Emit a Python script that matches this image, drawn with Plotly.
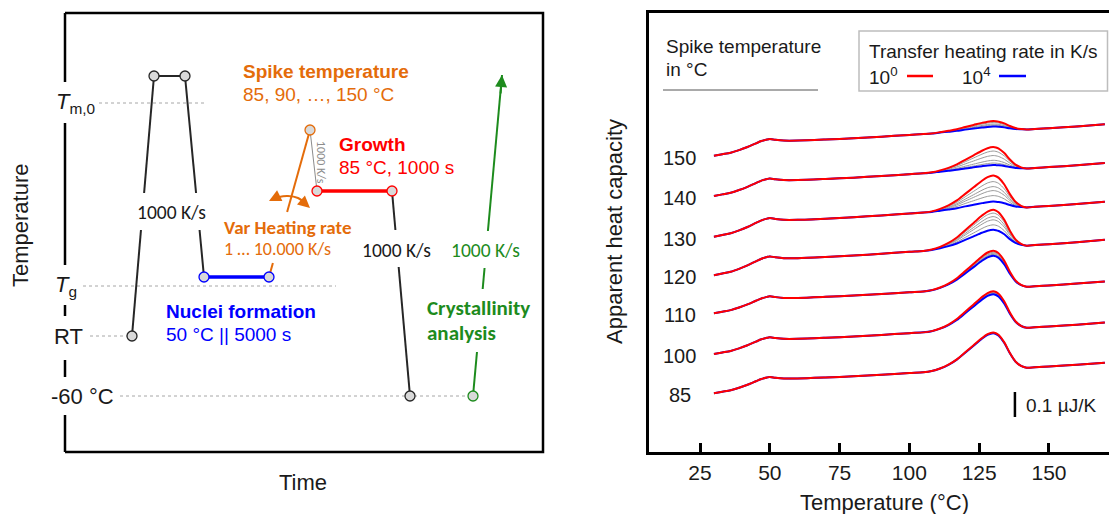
import plotly.graph_objects as go

W, H = 1109, 514
ARIAL = "Liberation Sans, Arial, Helvetica, sans-serif"
CALI = "Carlito, Lato, sans-serif"

ORANGE = "#E46C0A"
RED = "#FF0000"
BLUE = "#0000FF"
GREEN = "#1D8B1D"
BLACK = "#262626"
MARK_FILL = "#D9D9D9"
TXT = "#1a1a1a"

# ---------------- Right panel data (apparent heat capacity, µJ/K) ----------------
temperature_C = [30, 33, 36, 39, 42, 45, 47, 49, 50, 52, 55, 60, 70, 80, 90, 100, 105, 108,
                 111, 114, 117, 120, 123, 126, 128, 130, 131, 132, 134, 136, 138, 140, 142,
                 145, 150, 160, 170]
baseline_shape = [0.000, 0.006, 0.012, 0.022, 0.034, 0.048, 0.057, 0.063, 0.065, 0.062, 0.059,
                  0.059, 0.063, 0.068, 0.074, 0.081, 0.084, 0.086, 0.089, 0.091, 0.092, 0.094,
                  0.095, 0.096, 0.097, 0.098, 0.098, 0.098, 0.099, 0.100, 0.101, 0.102, 0.102,
                  0.104, 0.107, 0.114, 0.122]
peak_shape = [0, 0, 0, 0, 0, 0, 0, 0, 0, 0, 0, 0, 0, 0, 0, 0, 0, 0.02,
              0.07, 0.16, 0.30, 0.48, 0.67, 0.86, 0.96, 1.00, 0.98, 0.93, 0.72, 0.42, 0.18, 0.05, 0.0,
              0, 0, 0, 0]
spike_temperatures = [85, 100, 110, 120, 130, 140, 150]
curve_offset = [0.235, 0.392, 0.555, 0.707, 0.861, 1.024, 1.185]
baseline_gain = [1.00, 1.03, 1.04, 1.16, 1.15, 1.08, 1.03]
peak_rate_1 = [0.145, 0.150, 0.148, 0.148, 0.132, 0.090, 0.038]        # 10^0 K/s
peak_rate_mid = [[0.144, 0.144, 0.143, 0.142],                         # intermediate rates
                 [0.146, 0.143, 0.141, 0.140],
                 [0.142, 0.138, 0.134, 0.132],
                 [0.135, 0.121, 0.108, 0.088],
                 [0.108, 0.088, 0.072, 0.052],
                 [0.074, 0.056, 0.037, 0.026],
                 [0.032, 0.026, 0.022, 0.018]]
peak_rate_1e4 = [0.142, 0.138, 0.128, 0.068, 0.028, 0.018, 0.016]     # 10^4 K/s
x_ticks = [25, 50, 75, 100, 125, 150]
scale_bar_T = 137.8
scale_bar_y0 = 0.14
scale_bar_len = 0.1

# ---------------- Left panel data (schematic time / temperature units) ----------------
node_name = ["rt", "melt_a", "melt_b", "nuc_a", "nuc_b", "spike", "grow_a", "grow_b", "cool", "ana"]
node_time = [67, 89, 120, 139, 204, 245, 252, 327, 345, 408]
node_temp = [116, 376, 376, 175, 175, 322, 261, 261, 56, 56]
node_edge = [BLACK, BLACK, BLACK, BLUE, BLUE, ORANGE, RED, RED, BLACK, GREEN]
ana_tip = (437, 377)
level_name = ["Tm0", "Tg", "RT", "m60"]
level_temp = [349, 166, 116, 56]
level_from = [34, 18, 25, 55]
level_to = [141, 271, 64, 405]
axis_pieces = [(370, 439), (187, 329), (136, 147), (75, 92), (0, 37)]
box_w, box_h = 478, 439

N = dict(zip(node_name, zip(node_time, node_temp)))

fig = go.Figure()

# ---- right panel curves
def curve(off, gain, h):
    return [off + gain * b + h * p for b, p in zip(baseline_shape, peak_shape)]

for i, s in enumerate(spike_temperatures):
    off, g = curve_offset[i], baseline_gain[i]
    for h in peak_rate_mid[i]:
        fig.add_trace(go.Scatter(x=temperature_C, y=curve(off, g, h), mode="lines",
                                 line=dict(color="#9a9a9a", width=1, shape="spline", smoothing=0.8),
                                 showlegend=False, hoverinfo="skip"))
    fig.add_trace(go.Scatter(x=temperature_C, y=curve(off, g, peak_rate_1e4[i]), mode="lines",
                             line=dict(color=BLUE, width=2, shape="spline", smoothing=0.8), showlegend=False))
    fig.add_trace(go.Scatter(x=temperature_C, y=curve(off, g, peak_rate_1[i]), mode="lines",
                             line=dict(color=RED, width=2, shape="spline", smoothing=0.8), showlegend=False))

fig.add_trace(go.Scatter(x=[scale_bar_T, scale_bar_T], y=[scale_bar_y0, scale_bar_y0 + scale_bar_len],
                         mode="lines", line=dict(color="black", width=2.5), showlegend=False))

# ---- left panel schematic
def broken(p0, p1, gaps=()):
    def at(yy):
        t = (yy - p0[1]) / (p1[1] - p0[1])
        return p0[0] + t * (p1[0] - p0[0])
    gs = sorted(gaps, key=lambda g: (g[0] - p0[1]) / (p1[1] - p0[1]))
    xs, ys = [p0[0]], [p0[1]]
    for a, b in gs:
        if (b - a) * (p1[1] - p0[1]) < 0:
            a, b = b, a
        xs += [at(a), None, at(b)]
        ys += [a, None, b]
    xs.append(p1[0]); ys.append(p1[1])
    return xs, ys

def seg(xs, ys, color, width, dash=None):
    fig.add_trace(go.Scatter(x=xs, y=ys, mode="lines", xaxis="x2", yaxis="y2",
                             line=dict(color=color, width=width, dash=dash),
                             showlegend=False, hoverinfo="skip", connectgaps=False))

# frame
seg([0, box_w, box_w, 0], [box_h, box_h, 0, 0], "black", 2.5)
ax_x, ax_y = [], []
for a, b in axis_pieces:
    ax_x += [0, 0, None]; ax_y += [a, b, None]
seg(ax_x, ax_y, "black", 2.5)

# dashed levels
for t, x0, x1 in zip(level_temp, level_from, level_to):
    seg([x0, x1], [t, t], "#a6a6a6", 1, "3px,3px")

# process path
seg(*broken(N["rt"], N["melt_a"], [(222, 259)]), BLACK, 2)
seg(*broken(N["melt_a"], N["melt_b"]), BLACK, 2)
seg(*broken(N["melt_b"], N["nuc_a"], [(222, 259)]), BLACK, 2)
seg(*broken(N["nuc_a"], N["nuc_b"]), BLUE, 3.5)
seg(*broken(N["nuc_b"], N["spike"], [(189, 240)]), ORANGE, 2)
seg(*broken(N["spike"], N["grow_a"]), "#8c8c8c", 1)
seg(*broken(N["grow_a"], N["grow_b"]), RED, 3.5)
seg(*broken(N["grow_b"], N["cool"], [(185, 222)]), BLACK, 2)
seg(*broken(N["ana"], ana_tip, [(100, 163), (184, 221)]), GREEN, 2)

# curved double arrow
arc_x = [206, 214, 223, 233, 242]
arc_y = [252, 255, 256, 254, 247]
fig.add_trace(go.Scatter(x=arc_x, y=arc_y, mode="lines", xaxis="x2", yaxis="y2",
                         line=dict(color=ORANGE, width=2, shape="spline"), showlegend=False))

fig.add_trace(go.Scatter(x=node_time, y=node_temp, mode="markers", xaxis="x2", yaxis="y2",
                         marker=dict(size=10, color=MARK_FILL, line=dict(color=node_edge, width=1.3)),
                         showlegend=False))

ann = []
def A(x, y, text, size=19, color=TXT, family=ARIAL, xanchor="left", ref="x2", **kw):
    d = dict(x=x, y=y, text=text, showarrow=False, xanchor=xanchor, yanchor="middle",
             font=dict(size=size, color=color, family=family))
    if ref == "x2":
        d.update(xref="x2", yref="y2")
    elif ref == "x":
        d.update(xref="x", yref="y")
    else:
        d.update(xref="paper", yref="paper")
    d.update(kw)
    ann.append(d)

# arrow heads
for (x, y, ax, ay) in [(204, 251, 212, 255), (245, 244, 237, 251)]:
    ann.append(dict(x=x, y=y, ax=ax, ay=ay, xref="x2", yref="y2", axref="x2", ayref="y2",
                    showarrow=True, arrowhead=2, arrowsize=1.2, arrowwidth=2, arrowcolor=ORANGE, text=""))
ann.append(dict(x=ana_tip[0], y=ana_tip[1], ax=ana_tip[0] - 1.5, ay=ana_tip[1] - 20,
                xref="x2", yref="y2", axref="x2", ayref="y2", showarrow=True, arrowhead=2,
                arrowsize=1.2, arrowwidth=2, arrowcolor=GREEN, text=""))

A(175.5, 380, "<b>Spike temperature</b>", color=ORANGE)
A(175.5, 357, "85, 90, …, 150 °C", color=ORANGE)
A(272, 307, "<b>Growth</b>", color=RED)
A(272, 284, "85 °C, 1000 s", color=RED)
A(157, 224, "<b>Var Heating rate</b>", size=19, color=ORANGE, family=CALI)
A(157, 203, "1 … 10.000 K/s", size=18, color=ORANGE, family=CALI)
A(99, 141, "<b>Nuclei formation</b>", color=BLUE)
A(99, 118, "50 °C || 5000 s", color=BLUE)
A(106, 240, "1000 K/s", size=19.5, color=TXT, family=CALI, xanchor="center")
A(331, 202, "1000 K/s", size=19.5, color=TXT, family=CALI, xanchor="center")
A(420, 202, "1000 K/s", size=19.5, color=GREEN, family=CALI, xanchor="center")
A(360, 144, "<b>Crystallinity</b>", size=21, color=GREEN, family=CALI)
A(360, 119, "<b>analysis</b>", size=21, color=GREEN, family=CALI)
A(256, 290, "1000 K/s", size=12, color="#8c8c8c", family=CALI, xanchor="center", textangle=90)
A(10, 349, "<i>T</i><sub>m,0</sub>", size=22, xanchor="center")
A(1, 166, "<i>T</i><sub>g</sub>", size=22, xanchor="center")
A(3.5, 116, "RT", size=22, xanchor="center")
A(17.5, 56, "-60 °C", size=22, xanchor="center")
A(20 / W, 1 - 225 / H, "Temperature", size=22, ref="paper", xanchor="center", textangle=-90)
A(303 / W, 1 - 482 / H, "Time", size=22, ref="paper", xanchor="center")

# right panel texts
for s, off in zip(spike_temperatures, curve_offset):
    A(17.8, off, str(s), size=20, ref="x", xanchor="center", yshift=-2)
A(141.0, 0.188, "0.1 µJ/K", size=19, ref="x")
A(664 / W, 1 - 46 / H, "Spike temperature", size=19, ref="paper")
A(664 / W, 1 - 70 / H, "in °C", size=19, ref="paper")
A(867 / W, 1 - 52 / H, "Transfer heating rate in K/s", size=19, ref="paper")
A(867 / W, 1 - 76 / H, "10<sup>0</sup>", size=19, ref="paper")
A(960 / W, 1 - 76 / H, "10<sup>4</sup>", size=19, ref="paper")
A(615 / W, 1 - 231 / H, "Apparent heat capacity", size=22, ref="paper", xanchor="center", textangle=-90)
A(884 / W, 1 - 502 / H, "Temperature (°C)", size=22, ref="paper", xanchor="center")

shapes = [
    dict(type="line", xref="paper", yref="paper", x0=663 / W, x1=818 / W, y0=1 - 90 / H, y1=1 - 90 / H,
         line=dict(color="#555555", width=1)),
    dict(type="rect", xref="paper", yref="paper", x0=859 / W, x1=1107.5 / W, y0=1 - 91 / H, y1=1 - 31 / H,
         line=dict(color="#bdbdbd", width=1.5), fillcolor="rgba(0,0,0,0)"),
    dict(type="line", xref="paper", yref="paper", x0=907 / W, x1=933 / W, y0=1 - 76 / H, y1=1 - 76 / H,
         line=dict(color=RED, width=2.5)),
    dict(type="line", xref="paper", yref="paper", x0=999 / W, x1=1026 / W, y0=1 - 76 / H, y1=1 - 76 / H,
         line=dict(color=BLUE, width=2.5)),
]

fig.update_layout(
    width=W, height=H, margin=dict(l=0, r=0, t=0, b=0),
    paper_bgcolor="white", plot_bgcolor="rgba(0,0,0,0)",
    font=dict(family=ARIAL, color=TXT),
    annotations=ann, shapes=shapes, showlegend=False,
    xaxis=dict(domain=[649 / W, 1.0], range=[6.73, 171.5], tickvals=x_ticks, ticks="inside",
               ticklen=9, tickwidth=2.5, tickcolor="black", showline=True, linewidth=2.5,
               linecolor="black", mirror=True, showgrid=False, zeroline=False,
               tickfont=dict(size=21, color=TXT, family=ARIAL), ticklabelstandoff=0, anchor="y"),
    yaxis=dict(domain=[1 - 452 / H, 1 - 13 / H], range=[0, 1.756], showline=True, linewidth=2.5,
               linecolor="black", mirror=False, showgrid=False, zeroline=False,
               showticklabels=False, ticks="", anchor="x"),
    xaxis2=dict(domain=[55 / W, 553 / W], range=[-10, 488], visible=False, anchor="y2"),
    yaxis2=dict(domain=[1 - 462 / H, 1 - 5 / H], range=[-10, 447], visible=False, anchor="x2"),
)

fig.write_html("out.html", config={"displayModeBar": False},
               post_script="document.body.style.margin='0';document.body.style.overflow='hidden';")
